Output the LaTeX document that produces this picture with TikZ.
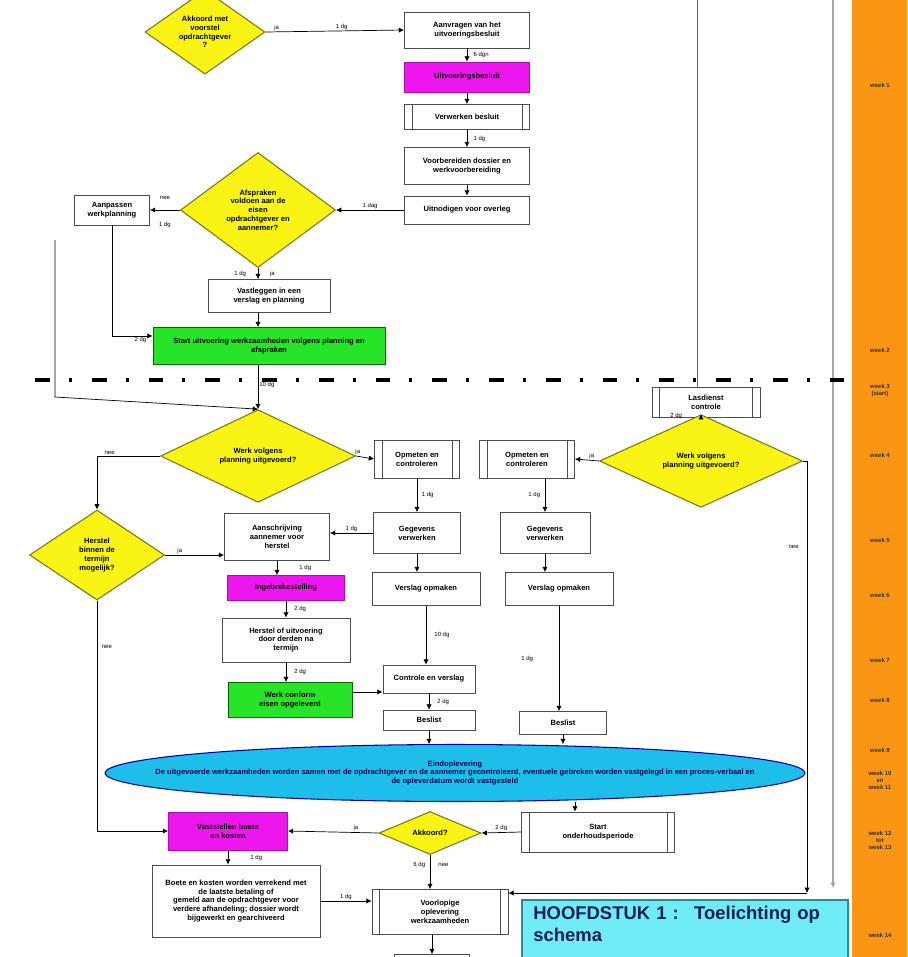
\documentclass[tikz,border=0pt]{standalone}
\usepackage{fontspec}
\setmainfont{Liberation Sans}
\usetikzlibrary{shapes.geometric,arrows.meta}

\definecolor{geel}{RGB}{250,244,20}
\definecolor{geelrand}{RGB}{120,120,20}
\definecolor{paars}{RGB}{238,22,238}
\definecolor{groen}{RGB}{40,228,40}
\definecolor{blauw}{RGB}{30,190,235}
\definecolor{oranje}{RGB}{250,150,20}
\definecolor{hfdvul}{RGB}{112,236,246}
\definecolor{hfdrand}{RGB}{40,140,150}
\definecolor{hfdtekst}{RGB}{20,30,90}

\begin{document}
\begin{tikzpicture}[x=0.02cm,y=-0.02cm,>={Latex[length=3pt,width=3pt]}]
	\tikzset{
	  box/.style={draw=black!70,fill=white,line width=0.5pt,inner sep=1pt,align=center,
	    font=\fontsize{4.3}{5}\selectfont\bfseries},
	  keuze/.style={diamond,draw=geelrand,fill=geel,line width=0.6pt,inner sep=0pt,align=center,
	    font=\fontsize{4.3}{5}\selectfont\bfseries},
	  tijd/.style={inner sep=0.6pt,font=\fontsize{3.4}{4}\selectfont},
	  uur/.style={inner sep=0pt,align=center,text=black!80,font=\fontsize{3.4}{4}\selectfont\bfseries}
	}
	\tikzstyle{roze}=[box,fill=paars,draw=paars!70!black]
	\tikzstyle{lichtgroen}=[box,fill=groen,draw=green!40!black]
	\tikzstyle{schaduw}=[draw=black!14,double=white,line width=0.5pt]
	\tikzstyle{grijslijn}=[draw=black!35,line width=1.6pt]

	\clip (0,0) rectangle (907,957);
	\fill[white] (0,0) rectangle (907,957);

	%% tijdbalk rechts
	\fill[oranje] (852,0) rectangle (907,957);
	\foreach \y/\t in {85/week 1,350/week 2,390/week 3\\(start),455/week 4,540/week 5,595/week 6,
	    660/week 7,700/week 8,750/week 9,780/week 10\\en\\week 11,840/week 12\\tot\\week 13,935/week 14}
	  \node[uur] at (880,\y) {\t};

	%% vage lijnen naar de tijdbalk
	\foreach \y/\xa in {78/540,350/390,398/765,462/805,540/600,592/620,700/480,770/805,835/680}
	  \draw[schaduw] (\xa,\y) -- (852,\y);

	%% grijze lijnen
	\coordinate (lastop) at (697,0);
	\coordinate (grijsboven) at (833,0);
	\coordinate (grijsonder) at (833,888);
	\draw[grijslijn,->] (grijsboven) -- (grijsonder);

	%% scheiding voorbereiding / uitvoering
	\draw[line width=2.2pt,dash pattern=on 8.5pt off 10.8pt on 1.7pt off 11.3pt] (35,380) -- (852,380);

	%% voorbereiding
	\node[keuze,minimum width=2.4cm,minimum height=1.6cm] (d1) at (205,32) {Akkoord met\\voorstel\\opdrachtgever\\?};
	\node[box,minimum width=2.5cm,minimum height=0.72cm] (b1) at (467,30) {Aanvragen van het\\uitvoeringsbesluit};
	\node[roze,minimum width=2.5cm,minimum height=0.6cm] (m1) at (467,77) {Uitvoeringsbesluit};
	\node[box,minimum width=2.5cm,minimum height=0.5cm] (b2) at (467,117) {Verwerken besluit};
	\node[box,minimum width=2.5cm,minimum height=0.74cm] (b3) at (467,166) {Voorbereiden dossier en\\werkvoorbereiding};
	\node[box,minimum width=2.5cm,minimum height=0.56cm] (b4) at (467,210) {Uitnodigen voor overleg};
	\node[keuze,minimum width=3.1cm,minimum height=2.3cm] (d2) at (258,210) {Afspraken\\voldoen aan de\\eisen\\opdrachtgever en\\aannemer?};
	\node[box,minimum width=1.5cm,minimum height=0.6cm] (b5) at (112,210) {Aanpassen\\werkplanning};
	\node[box,minimum width=2.44cm,minimum height=0.66cm] (b6) at (269,296) {Vastleggen in een\\verslag en planning};
	\node[lichtgroen,minimum width=4.64cm,minimum height=0.74cm] (g1) at (269,346) {Start uitvoering werkzaamheden volgens planning en\\afspraken};

	\draw[->] (d1.east) -- (b1.west) node[tijd,pos=0.08,above]{ja} node[tijd,pos=0.55,above]{1 dg};
	\foreach \a/\b/\t in {b1/m1/6 dgn,m1/b2/,b2/b3/1 dg,b3/b4/}
	  \draw[->] (\a) -- (\b) node[tijd,midway,right=3pt]{\t};
	\draw[->] (b4.west) -- (d2.east) node[tijd,midway,above]{1 dag};
	\draw[->] (d2.west) -- (b5.east) node[tijd,midway,above=5pt]{nee} node[tijd,midway,below=6pt]{1 dg};
	\draw[->] (d2.south) -- (d2.south |- b6.north) node[tijd,midway,left=6pt]{1 dg} node[tijd,midway,right=6pt]{ja};
	\draw[->] (d2.south |- b6.south) -- (d2.south |- g1.north);
	\draw[->] (b5.south) |- ([yshift=0.2cm]g1.west) node[tijd,pos=0.85,below]{2 dg};

	%% uitvoering
	\node[keuze,minimum width=3.9cm,minimum height=1.04cm] (d3) at (258,456) {Werk volgens\\planning uitgevoerd?};
	\node[box,minimum width=1.7cm,minimum height=0.76cm] (b7) at (417,459) {Opmeten en\\controleren};
	\node[box,minimum width=1.9cm,minimum height=0.76cm] (b8) at (527,459) {Opmeten en\\controleren};
	\node[box,minimum width=2.16cm,minimum height=0.6cm] (b9) at (706,402) {Lasdienst\\controle};
	\node[keuze,minimum width=4.06cm,minimum height=1.1cm] (d4) at (701,461) {Werk volgens\\planning uitgevoerd?};
	\node[keuze,minimum width=2.7cm,minimum height=1.8cm] (d5) at (97,555) {Herstel\\binnen de\\termijn\\mogelijk?};
	\node[box,minimum width=2.1cm,minimum height=0.94cm] (b10) at (277,537) {Aanschrijving\\aannemer voor\\herstel};
	\node[box,minimum width=1.74cm,minimum height=0.82cm] (b11) at (417,533) {Gegevens\\verwerken};
	\node[box,minimum width=2.16cm,minimum height=0.66cm] (b12) at (426,589) {Verslag opmaken};
	\node[box,minimum width=1.8cm,minimum height=0.82cm] (b13) at (545,533) {Gegevens\\verwerken};
	\node[box,minimum width=2.16cm,minimum height=0.66cm] (b14) at (559,589) {Verslag opmaken};
	\node[roze,minimum width=2.34cm,minimum height=0.5cm] (m2) at (286,588) {Ingebrekestelling};
	\node[box,minimum width=2.56cm,minimum height=0.88cm] (b15) at (286,640) {Herstel of uitvoering\\door derden na\\termijn};
	\node[lichtgroen,minimum width=2.48cm,minimum height=0.7cm] (g2) at (290,700) {Werk conform\\eisen opgeleverd};
	\node[box,minimum width=1.84cm,minimum height=0.56cm] (b16) at (429,679) {Controle en verslag};
	\node[box,minimum width=1.84cm,minimum height=0.4cm] (b17) at (429,720) {Beslist};
	\node[box,minimum width=1.74cm,minimum height=0.46cm] (b18) at (563,723) {Beslist};

	%% eindoplevering: ellips los van de tekst
	\node[inner sep=0pt,minimum width=14cm,minimum height=1.14cm] (e1) at (455,773) {};
	\draw[draw=blue!60!black,fill=blauw,line width=0.6pt] (e1.center) ellipse (7cm and 0.57cm);
	\node[align=center,inner sep=0pt,font=\fontsize{4.3}{5}\selectfont\bfseries,text=blue!30!black] at (e1.center)
	  {Eindoplevering\\De uitgevoerde werkzaamheden worden samen met de opdrachtgever en de aannemer gecontroleerd, eventuele gebreken worden vastgelegd in een proces-verbaal en\\de opleverdatum wordt vastgesteld};

	\node[keuze,minimum width=2.04cm,minimum height=0.86cm] (d6) at (430,833) {Akkoord?};
	\node[box,minimum width=3.06cm,minimum height=0.8cm] (b19) at (598,832) {Start\\onderhoudsperiode};
	\node[roze,minimum width=2.38cm,minimum height=0.76cm] (m3) at (228,831) {Vaststellen boete\\en kosten};
	\node[box,minimum width=3.36cm,minimum height=1.44cm] (b20) at (236,901)
	  {Boete en kosten worden verrekend met\\de laatste betaling of\\gemeld aan de opdrachtgever voor\\verdere afhandeling; dossier wordt\\bijgewerkt en gearchiveerd};
	\node[box,minimum width=2.72cm,minimum height=0.9cm] (b21) at (440,912) {Voorlopige\\oplevering\\werkzaamheden};
	\node[box,minimum width=1.5cm,minimum height=0.3cm] (b22) at (432,962) {};

	%% deelprocessen: dubbele zijlijnen
	\foreach \n in {b2,b7,b8,b9,b19,b21}
	  \draw[black!70,line width=0.4pt] ([xshift=0.16cm]\n.north west) -- ([xshift=0.16cm]\n.south west)
	    ([xshift=-0.16cm]\n.north east) -- ([xshift=-0.16cm]\n.south east);

	%% hoofdstuktitel
	\draw[draw=hfdrand,fill=hfdvul,line width=1.2pt] (522,900) rectangle (848,975);
	\node[anchor=north west,inner sep=0pt,text width=6.2cm,align=left,text=hfdtekst,
	  font=\fontsize{10.5}{12.5}\selectfont\bfseries] (hfd) at (533,906)
	  {HOOFDSTUK 1 :\enspace\ Toelichting op\\schema};

	\coordinate (links) at (55,240);
	\coordinate (knik) at (55,397);
	\coordinate (hoek) at (807,893);

	\draw[->] (d3.north |- g1.south) -- (d3.north) node[tijd,pos=0.45,right]{10 dg};
	\draw[->] (links) -- (knik) -- (d3.north);
	\draw[->] (d3.east) -- (b7.west) node[tijd,pos=0.1,above]{ja};
	\draw[->] (d3.west) -| (d5.north) node[tijd,pos=0.4,above]{nee};
	\draw[->] (d4.west) -- (b8.east) node[tijd,pos=0.3,above]{ja};
	\draw[black!60] (lastop |- 0,0) -- (lastop |- b9.north);
	\draw[->] (d4.north |- b9.south) -- (d4.north) node[tijd,midway,left=10pt]{2 dg};
	\draw[->] (d4.east) -| (hoek) node[tijd,pos=0.6,left=4pt]{nee};
	\draw[->] (hoek) -- (hoek -| b21.east);
	\draw[->] (b7) -- (b11) node[tijd,midway,right=2pt]{1 dg};
	\draw[->] (b13.north |- b8.south) -- (b13.north) node[tijd,midway,left=2pt]{1 dg};
	\draw[->] (b11.south) -- (b11.south |- b12.north);
	\draw[->] (b13.south) -- (b13.south |- b14.north);
	\draw[->] (b11.west) -- (b11.west -| b10.east) node[tijd,midway,above]{1 dg};
	\draw[->] (d5.east) -- (d5.east -| b10.west) node[tijd,pos=0.25,above]{ja};
	\draw[->] (b10.south) -- (b10.south |- m2.north) node[tijd,midway,right=12pt]{1 dg};
	\draw[->] (m2) -- (b15) node[tijd,midway,right=4pt]{2 dg};
	\draw[->] (b15.south) -- (b15.south |- g2.north) node[tijd,midway,right=4pt]{2 dg};
	\draw[->] ([yshift=0.16cm]g2.east) -- ([yshift=0.16cm]g2.east -| b16.west);
	\draw[->] (b12.south) -- (b12.south |- b16.north) node[tijd,midway,right=4pt]{10 dg};
	\draw[->] (b16) -- (b17) node[tijd,midway,right=4pt]{2 dg};
	\draw[->] (b14.south) -- (b14.south |- b18.north) node[tijd,midway,left=14pt]{1 dg};
	\draw[->] (b17.south) -- (b17.south |- e1.north);
	\draw[->] (b18.south) -- (b18.south |- e1.north);
	\draw[->] ([xshift=-0.46cm]b19.north |- e1.south) -- ([xshift=-0.46cm]b19.north);
	\draw[->] (b19.west) -- (d6.east) node[tijd,midway,above]{2 dg};
	\draw[->] (d6.west) -- (m3.east) node[tijd,pos=0.25,above]{ja};
	\draw[->] (d5.south) |- (m3.west) node[tijd,pos=0.1,right=2pt]{nee};
	\draw[->] (m3.south) -- (m3.south |- b20.north) node[tijd,midway,right=12pt]{1 dg};
	\draw[->] (d6.south) -- (d6.south |- b21.north) node[tijd,pos=0.3,left=2pt]{6 dg} node[tijd,pos=0.3,right=4pt]{nee};
	\draw[->] (b20.east) -- (b20.east -| b21.west) node[tijd,midway,above]{1 dg};
	\draw[->] (b21.south -| b22.north) -- (b22.north);
\end{tikzpicture}
\end{document}
